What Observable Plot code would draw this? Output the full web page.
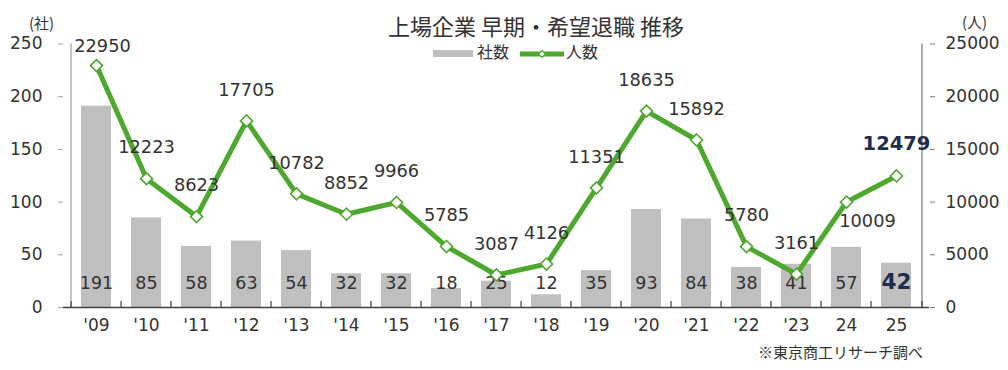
<!DOCTYPE html>
<html><head><meta charset="utf-8">
<script src="https://cdn.jsdelivr.net/npm/d3@7"></script>
<script src="https://cdn.jsdelivr.net/npm/@observablehq/plot@0.6"></script>
<style>
body{margin:0;background:#fff}
#wrap{position:relative;width:1008px;height:370px;overflow:hidden;background:#fff}
#wrap > svg{position:absolute;left:0;top:0}
.ov{position:absolute;white-space:nowrap;color:#333;font-family:"Noto Sans CJK JP",sans-serif;line-height:1}
.ov svg{display:inline-block;vertical-align:middle}
</style></head><body><div id="wrap"></div>
<script>
// ---- data ----
const years = ["'09","'10","'11","'12","'13","'14","'15","'16","'17","'18","'19","'20","'21","'22","'23","24","25"];
const companies = [191,85,58,63,54,32,32,18,25,12,35,93,84,38,41,57,42];
const people = [22950,12223,8623,17705,10782,8852,9966,5785,3087,4126,11351,18635,15892,5780,3161,10009,12479];
const leftTicks = [0,50,100,150,200,250];
const rightTickFactor = 100; // 人数 axis = 社数 axis × 100

// ---- layout ----
const W = 1008, H = 370, ML = 63, MR = 79, MT = 43.5, MB = 63;
const step = (W - ML - MR) / years.length;
const pxPerUnit = (H - MT - MB) / 250;
const green = "#4ea72e", barGray = "#bfbfbf", txt = "#333", navy = "#1f2d4d";
const highlight = "25";
const labelOffsets = {"'09": [6, -19], "24": [21, 19]};
const defaultOffset = [0, -31];

const data = years.map((year, i) => ({year, count: companies[i], people: people[i], p: people[i] / rightTickFactor}));

const peopleLabels = data.map(d => {
  const [dx, dy] = labelOffsets[d.year] || defaultOffset;
  const hi = d.year === highlight;
  return Plot.text([d], {x: "year", y: "p", text: d => String(d.people), dx, dy: hi ? -32 : dy,
    fontSize: hi ? 19.5 : 17.8, fontWeight: hi ? "bold" : "normal", fill: hi ? navy : txt});
});

const chart = Plot.plot({
  width: W, height: H,
  marginLeft: ML, marginRight: MR, marginTop: MT, marginBottom: MB,
  style: {fontFamily: "'DejaVu Sans', sans-serif", fontSize: "17px", color: txt, background: "transparent"},
  x: {domain: years, paddingInner: 0.41, paddingOuter: 0.205, axis: null},
  y: {domain: [0, 250], axis: null},
  marks: [
    Plot.barY(data, {x: "year", y: "count", fill: barGray}),
    Plot.axisY({anchor: "left", ticks: leftTicks, tickSize: 5, tickPadding: 16, stroke: "#a0a0a0", fill: txt, fontSize: 17, label: null}),
    Plot.axisY({anchor: "right", ticks: leftTicks, tickSize: 5, tickPadding: 11, tickFormat: d => String(d * rightTickFactor), stroke: "#808080", fill: txt, fontSize: 17, label: null}),
    Plot.ruleX([years[0]], {x: d => d, dx: -step / 2, y1: 0, y2: 250, stroke: "#a6a6a6", strokeWidth: 1.3}),
    Plot.ruleX([years[years.length - 1]], {x: d => d, dx: step / 2, y1: 0, y2: 250, stroke: "#808080", strokeWidth: 1.3}),
    Plot.ruleX(years, {x: d => d, dx: -step / 2, y1: 0, y2: 6 / pxPerUnit, stroke: "#404040", strokeWidth: 1.2}),
    Plot.ruleX([years[years.length - 1]], {x: d => d, dx: step / 2, y1: 0, y2: 6 / pxPerUnit, stroke: "#404040", strokeWidth: 1.2}),
    Plot.ruleY([0], {stroke: "#404040", strokeWidth: 1.4}),
    Plot.text(data.filter(d => d.year !== highlight), {x: "year", y: 0, dy: -24, text: d => String(d.count), fontSize: 17.5, fill: txt}),
    Plot.text(data.filter(d => d.year === highlight), {x: "year", y: 0, dy: -25, text: d => String(d.count), fontSize: 21.5, fontWeight: "bold", fill: navy}),
    Plot.text(data, {x: "year", frameAnchor: "bottom", dy: 23, text: "year", fontSize: 17, fill: txt}),
    Plot.line(data, {x: "year", y: "p", stroke: green, strokeWidth: 5, curve: "linear"}),
    Plot.dot(data, {x: "year", y: "p", symbol: "diamond2", r: 5.4, fill: "white", stroke: green, strokeWidth: 1.6}),
    ...peopleLabels
  ]
});

const wrap = document.getElementById("wrap");
wrap.appendChild(chart);

function ov(html, css) {
  const d = document.createElement("div");
  d.className = "ov";
  d.innerHTML = html;
  Object.assign(d.style, css);
  wrap.appendChild(d);
  return d;
}
ov("上場企業 早期・希望退職 推移", {left: "536px", top: "14px", transform: "translateX(-50%)", fontSize: "22px"});
ov("(社)", {left: "29px", top: "15px", fontSize: "15px"});
ov("(人)", {left: "962px", top: "14px", fontSize: "15px"});
ov('<span style="display:inline-block;width:40px;height:7px;background:' + barGray + ';vertical-align:middle;margin-right:4px"></span>社数', {left: "433px", top: "43px", fontSize: "16px"});
ov('<svg width="44" height="12" style="margin-right:2px"><line x1="0" y1="6" x2="44" y2="6" stroke="' + green + '" stroke-width="5"/><path d="M22 2.5 L25.5 6 L22 9.5 L18.5 6 Z" fill="white" stroke="' + green + '" stroke-width="1.2"/></svg>人数', {left: "520px", top: "43px", fontSize: "16px"});
ov("※東京商工リサーチ調べ", {right: (W - 923) + "px", top: "344px", fontSize: "15px"});
</script>
</body></html>
